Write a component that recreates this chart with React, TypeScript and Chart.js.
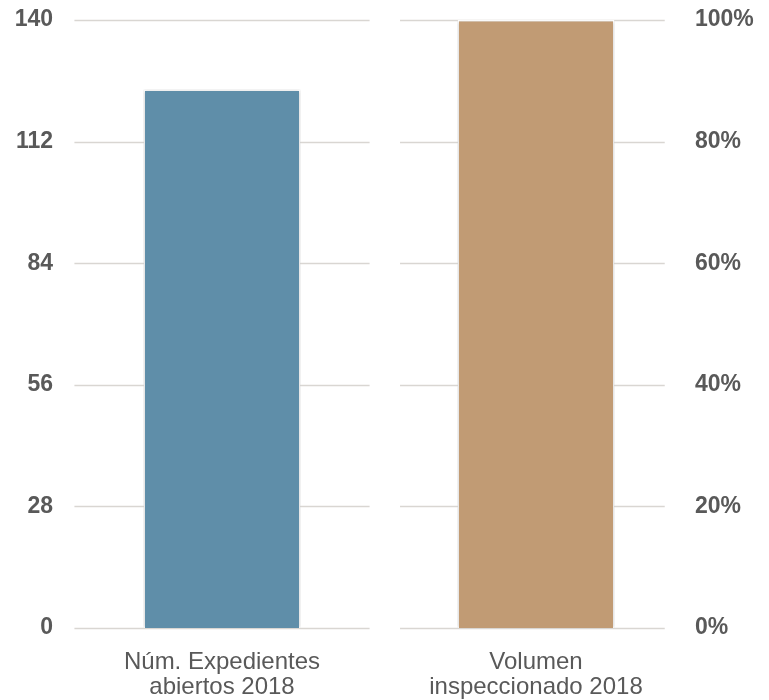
import React, { useEffect, useRef } from "react";
import { Chart, registerables } from "chart.js";

Chart.register(...registerables);

const categories: string[][] = [
  ["Núm. Expedientes", "abiertos 2018"],
  ["Volumen", "inspeccionado 2018"],
];
const expedientes: (number | null)[] = [124, null];
const volumenPct: (number | null)[] = [null, 100];
const leftMax = 140;
const leftStep = 28;
const rightMax = 100;
const rightStep = 20;

const TEXT = "#595959";
const FONT = "'Liberation Sans', Arial, sans-serif";

const bandGrid = {
  id: "bandGrid",
  beforeDatasetsDraw(chart: any) {
    const { ctx, scales } = chart;
    const x = scales.x;
    const y = scales.y;
    const n = categories.length;
    const w = x.width / n;
    const insets = [
      [0.03, 0.03],
      [0.067, 0.09],
    ];
    ctx.save();
    ctx.strokeStyle = "#d9d6d2";
    ctx.lineWidth = 1.5;
    y.ticks.forEach((t: any) => {
      const py = Math.round(y.getPixelForValue(t.value)) + 0.5;
      for (let i = 0; i < n; i++) {
        const c = x.getPixelForValue(i);
        const l = c - w / 2 + insets[i][0] * w;
        const r = c + w / 2 - insets[i][1] * w;
        ctx.beginPath();
        ctx.moveTo(l, py);
        ctx.lineTo(r, py);
        ctx.stroke();
      }
    });
    ctx.restore();
  },
  beforeDatasetDraw(chart: any) {
    const ctx = chart.ctx;
    ctx.save();
    ctx.shadowColor = "rgba(0,0,0,0.25)";
    ctx.shadowBlur = 3;
    ctx.shadowOffsetX = 0;
    ctx.shadowOffsetY = 0;
  },
  afterDatasetDraw(chart: any) {
    chart.ctx.restore();
  },
};

const fitY = (width: number) => (s: any) => {
  s.width = width;
  s.paddingTop = 0;
  s.paddingBottom = 0;
};

export default function App() {
  const ref = useRef<HTMLCanvasElement | null>(null);

  useEffect(() => {
    if (!ref.current) return;
    const chart = new Chart(ref.current, {
      type: "bar",
      data: {
        labels: categories,
        datasets: [
          {
            label: "Núm. Expedientes abiertos 2018",
            data: expedientes,
            backgroundColor: "#5f8ea9",
            borderColor: "#ffffff",
            borderWidth: 1.5,
            yAxisID: "y",
            grouped: false,
          } as any,
          {
            label: "Volumen inspeccionado 2018",
            data: volumenPct,
            backgroundColor: "#c19b74",
            borderColor: "#ffffff",
            borderWidth: 1.5,
            yAxisID: "y1",
            grouped: false,
          } as any,
        ],
      },
      options: {
        animation: false,
        responsive: true,
        maintainAspectRatio: false,
        datasets: { bar: { categoryPercentage: 1, barPercentage: 0.5 } },
        layout: { padding: { top: 20, bottom: 0, left: 0, right: 0 } },
        plugins: {
          legend: { display: false },
          tooltip: { enabled: false },
        },
        scales: {
          x: {
            grid: { display: false, drawTicks: false },
            border: { display: false },
            ticks: {
              color: TEXT,
              font: { family: FONT, size: 24, lineHeight: 1.05 },
              padding: 22,
              maxRotation: 0,
              autoSkip: false,
            },
            afterFit: (s: any) => {
              s.height = 72;
            },
          },
          y: {
            position: "left",
            min: 0,
            max: leftMax,
            grid: { display: false, drawTicks: false },
            border: { display: false },
            ticks: {
              stepSize: leftStep,
              color: TEXT,
              padding: 12,
              font: { family: FONT, size: 23, weight: "bold" },
            },
            afterFit: fitY(65),
          },
          y1: {
            position: "right",
            min: 0,
            max: rightMax,
            grid: { display: false, drawTicks: false },
            border: { display: false },
            ticks: {
              stepSize: rightStep,
              color: TEXT,
              padding: 2,
              font: { family: FONT, size: 23, weight: "bold" },
              callback: (v: any) => v + "%",
            },
            afterFit: fitY(76),
          },
        },
      },
      plugins: [bandGrid],
    });
    return () => chart.destroy();
  }, []);

  return (
    <div style={{ position: "absolute", left: 0, top: 0, width: 769, height: 700, background: "#fff" }}>
      <canvas ref={ref} />
    </div>
  );
}
